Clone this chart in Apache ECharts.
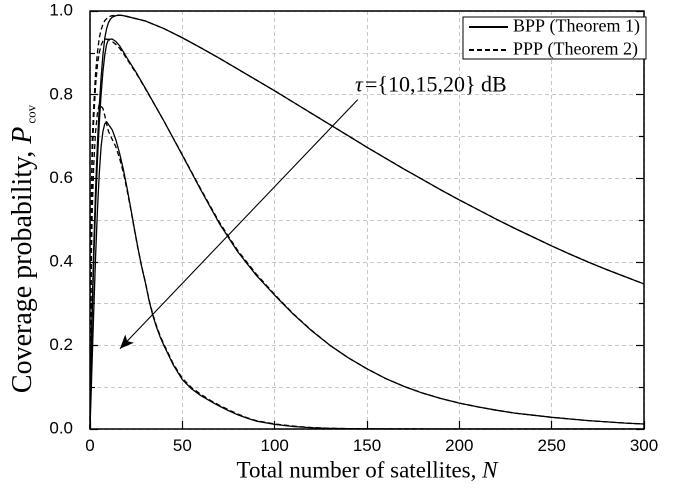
<!DOCTYPE html>
<html>
<head>
<meta charset="utf-8">
<script src="https://cdn.jsdelivr.net/npm/echarts@6/dist/echarts.min.js"></script>
<style>
html,body{margin:0;padding:0;background:#fff;}
#chart{width:688px;height:489px;}
</style>
</head>
<body>
<div id="chart"></div>
<script>
// ---- data ----
const xTicks = [0, 50, 100, 150, 200, 250, 300];
const yTicks = [0.0, 0.2, 0.4, 0.6, 0.8, 1.0];

// tau = 10 dB
const nBpp10 = [0,1,2,3,4,5,6,7,8,9,10,11,12,14,16,18,20,30,40,50,60,70,80,90,100,110,120,130,140,150,160,170,180,190,200,210,220,230,240,250,260,270,280,290,300];
const pBpp10 = [0,0.26,0.43,0.57,0.68,0.77,0.84,0.895,0.935,0.958,0.972,0.98,0.985,0.989,0.99,0.989,0.987,0.976,0.958,0.936,0.912,0.887,0.861,0.835,0.809,0.782,0.755,0.728,0.701,0.674,0.648,0.622,0.597,0.572,0.548,0.525,0.502,0.48,0.459,0.438,0.418,0.399,0.381,0.364,0.347];
const nPpp10 = [0,0.4,0.8,1.2,2,3,4,5,6,7,8,10,12,14,16,18,20,30,40,50,60,70,80,90,100,110,120,130,140,150,160,170,180,190,200,210,220,230,240,250,260,270,280,290,300];
const pPpp10 = [0,0.3,0.58,0.69,0.77,0.85,0.9,0.935,0.955,0.968,0.977,0.986,0.989,0.99,0.99,0.989,0.987,0.976,0.958,0.936,0.912,0.887,0.861,0.835,0.809,0.782,0.755,0.728,0.701,0.674,0.648,0.622,0.597,0.572,0.548,0.525,0.502,0.48,0.459,0.438,0.418,0.399,0.381,0.364,0.347];

// tau = 15 dB
const nBpp15 = [0,1,2,3,4,5,6,7,8,9,10,11,12,14,16,18,20,25,30,40,50,60,70,80,90,100,110,120,130,140,150,160,170,180,190,200,210,220,230,240,250,260,270,280,290,300];
const pBpp15 = [0,0.24,0.4,0.53,0.64,0.73,0.8,0.855,0.895,0.92,0.932,0.935,0.933,0.927,0.917,0.903,0.888,0.853,0.815,0.737,0.655,0.572,0.492,0.424,0.368,0.32,0.275,0.235,0.2,0.17,0.144,0.121,0.102,0.086,0.073,0.062,0.053,0.045,0.038,0.033,0.028,0.024,0.02,0.017,0.014,0.012];
const nPpp15 = [0,0.4,0.8,1.2,2,3,4,5,6,7,8,9,10,12,14,16,18,20,25,30,40,50,60,70,80,90,100,110,120,130,140,150,160,170,180,190,200,210,220,230,240,250,260,270,280,290,300];
const pPpp15 = [0,0.27,0.53,0.64,0.74,0.82,0.87,0.9,0.918,0.928,0.933,0.934,0.932,0.927,0.92,0.911,0.899,0.885,0.851,0.814,0.737,0.656,0.574,0.495,0.427,0.371,0.322,0.276,0.236,0.2,0.17,0.144,0.121,0.102,0.086,0.073,0.062,0.053,0.045,0.038,0.033,0.028,0.024,0.02,0.017,0.014,0.012];

// tau = 20 dB
const nBpp20 = [0,1,2,3,4,5,6,7,8,9,10,12,14,16,18,20,22,24,26,28,30,32,34,36,38,40,45,50,55,60,65,70,75,80,85,90,100,110,120,130,140,160,200,300];
const pBpp20 = [0,0.14,0.28,0.41,0.52,0.61,0.675,0.712,0.73,0.735,0.732,0.716,0.692,0.66,0.622,0.578,0.53,0.48,0.432,0.388,0.35,0.307,0.272,0.244,0.22,0.2,0.154,0.118,0.096,0.08,0.067,0.055,0.044,0.034,0.026,0.019,0.011,0.006,0.003,0.0015,0.0008,0.0002,0,0];
const nPpp20 = [0,0.4,0.8,1.2,2,3,4,5,5.5,6,7,8,9,10,12,14,16,18,20,22,24,26,28,30,32,34,36,38,40,45,50,55,60,65,70,75,80,85,90,100,110,120,130,140,160,200,300];
const pPpp20 = [0,0.22,0.42,0.52,0.63,0.71,0.755,0.777,0.78,0.778,0.767,0.75,0.73,0.712,0.693,0.675,0.648,0.614,0.573,0.527,0.478,0.431,0.388,0.351,0.309,0.275,0.247,0.223,0.203,0.157,0.121,0.099,0.083,0.069,0.057,0.046,0.036,0.027,0.02,0.012,0.007,0.0035,0.0017,0.0009,0.0002,0,0];

// annotation (arrow from label toward the curves, in data units)
const arrowFrom = [145, 0.788];
const arrowTo = [16.2, 0.192];
const tauLabelAt = [143.5, 0.819];
const tauSymbol = 'τ';
const tauRest = '={10,15,20} dB';

const legendNames = ['BPP (Theorem 1)', 'PPP (Theorem 2)'];

// ---- chart ----
const chart = echarts.init(document.getElementById('chart'), null, {renderer: 'canvas', devicePixelRatio: 2});
const zip = (xs, ys) => xs.map((x, i) => [x, ys[i]]);
const SERIF = '"Liberation Serif", "Times New Roman", serif';
const SANS = '"Liberation Sans", Arial, sans-serif';

function lineSeries(name, xs, ys, dashed, extra) {
  return Object.assign({
    type: 'line',
    name: name,
    data: zip(xs, ys),
    symbol: 'none',
    showSymbol: false,
    smooth: false,
    clip: true,
    lineStyle: {color: '#000', width: 1.3, type: dashed ? [5, 3] : 'solid', join: 'round'},
    itemStyle: {color: '#000'},
    emphasis: {disabled: true},
    z: 3
  }, extra || {});
}

const gridStyle = {show: true, lineStyle: {color: '#c8c8c8', type: [4, 3], width: 1}};

const option = {
  animation: false,
  backgroundColor: '#fff',
  grid: {left: 90, right: 44, top: 11, bottom: 60, containLabel: false},
  legend: {
    data: legendNames,
    left: 463, top: 17,
    orient: 'vertical',
    itemWidth: 39, itemHeight: 14, itemGap: 5,
    padding: [1, 6, 0, 5],
    backgroundColor: '#fff',
    borderColor: '#000', borderWidth: 1,
    borderRadius: 0,
    itemStyle: {opacity: 0},
    textStyle: {fontFamily: SERIF, fontSize: 18, color: '#000', lineHeight: 18},
    selectedMode: false,
    z: 10
  },
  xAxis: [{
    type: 'value', min: xTicks[0], max: xTicks[xTicks.length - 1], interval: 50,
    position: 'bottom',
    axisLine: {show: true, onZero: false, lineStyle: {color: '#000', width: 1.5}},
    axisTick: {show: true, inside: true, length: 8, lineStyle: {color: '#000', width: 1.2}},
    axisLabel: {color: '#000', fontFamily: SANS, fontSize: 17, margin: 9},
    splitLine: gridStyle,
    name: '{a|Total number of satellites, }{i|N}',
    nameLocation: 'middle', nameGap: 22,
    nameTextStyle: {rich: {
      a: {fontFamily: SERIF, fontSize: 23, color: '#000', lineHeight: 26},
      i: {fontFamily: SERIF, fontSize: 23, fontStyle: 'italic', color: '#000', lineHeight: 26}
    }}
  }, {
    type: 'value', min: xTicks[0], max: xTicks[xTicks.length - 1], interval: 50,
    position: 'top',
    axisLine: {show: true, onZero: false, lineStyle: {color: '#000', width: 1.5}},
    axisTick: {show: false},
    axisLabel: {show: false},
    splitLine: {show: false}
  }],
  yAxis: [{
    type: 'value', min: yTicks[0], max: yTicks[yTicks.length - 1], interval: 0.2,
    position: 'left',
    axisLine: {show: true, onZero: false, lineStyle: {color: '#000', width: 1.5}},
    axisTick: {show: true, inside: true, length: 8, lineStyle: {color: '#000', width: 1.2}},
    minorTick: {show: true, splitNumber: 2, length: 5, lineStyle: {color: '#000', width: 1.2}},
    minorSplitLine: gridStyle,
    axisLabel: {color: '#000', fontFamily: SANS, fontSize: 17, margin: 17,
      formatter: v => v.toFixed(1)},
    splitLine: gridStyle,
    name: '{a|Coverage probability, }{i|P}{s|cov}',
    nameLocation: 'middle', nameGap: 50, nameRotate: 90,
    nameTextStyle: {
      padding: [0, 58, 0, 0],
      rich: {
        a: {fontFamily: SERIF, fontSize: 28, color: '#000', lineHeight: 30},
        i: {fontFamily: SERIF, fontSize: 28, fontStyle: 'italic', color: '#000', lineHeight: 30},
        s: {fontFamily: SERIF, fontSize: 13, color: '#000', lineHeight: 14, verticalAlign: 'bottom', padding: [0, 0, 0, 3]}
      }
    }
  }, {
    type: 'value', min: yTicks[0], max: yTicks[yTicks.length - 1], interval: 0.2,
    position: 'right',
    axisLine: {show: true, onZero: false, lineStyle: {color: '#000', width: 1.5}},
    axisTick: {show: true, inside: true, length: 8, lineStyle: {color: '#000', width: 1.2}},
    minorTick: {show: true, splitNumber: 2, length: 5, lineStyle: {color: '#000', width: 1.2}},
    axisLabel: {show: false},
    splitLine: {show: false}
  }],
  series: [
    lineSeries(legendNames[0], nBpp10, pBpp10, false, {
      markLine: {
        silent: true,
        symbol: ['none', 'arrow'],
        symbolSize: [9, 14],
        lineStyle: {color: '#000', width: 1.1, type: 'solid'},
        label: {show: false},
        emphasis: {disabled: true},
        data: [[{coord: arrowFrom}, {coord: arrowTo}]]
      }
    }),
    lineSeries(legendNames[0], nBpp15, pBpp15, false),
    lineSeries(legendNames[0], nBpp20, pBpp20, false),
    lineSeries(legendNames[1], nPpp10, pPpp10, true),
    lineSeries(legendNames[1], nPpp15, pPpp15, true),
    lineSeries(legendNames[1], nPpp20, pPpp20, true)
  ]
};
chart.setOption(option);

const pt = chart.convertToPixel({xAxisIndex: 0, yAxisIndex: 0}, tauLabelAt);
chart.setOption({
  graphic: [{
    type: 'text', left: pt[0], top: pt[1] - 12, z: 20,
    style: {text: tauSymbol, font: 'italic 22px ' + SERIF, fill: '#000'}
  }, {
    type: 'text', left: pt[0] + 10, top: pt[1] - 12, z: 20,
    style: {text: tauRest, font: '22px ' + SERIF, fill: '#000'}
  }]
});
</script>
</body>
</html>
